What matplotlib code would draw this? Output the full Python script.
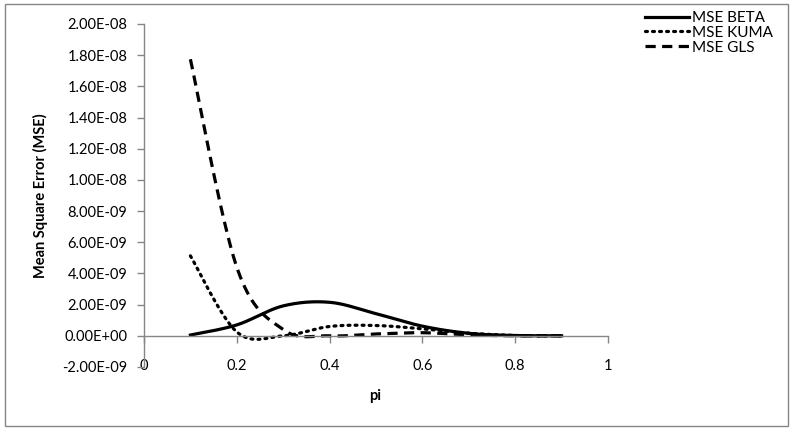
import numpy as np
import matplotlib
matplotlib.use('Agg')
import matplotlib.pyplot as plt
from matplotlib.patches import Rectangle
from matplotlib.ticker import FuncFormatter, MultipleLocator

# values (MSE in units of 1e-9)
pi_vals  = [0.1, 0.2, 0.3, 0.4, 0.5, 0.6, 0.7, 0.8, 0.9]
mse_beta = [0.05, 0.70, 1.92, 2.15, 1.42, 0.62, 0.16, 0.02, 0.00]
mse_kuma = [5.13, 0.25, 0.00, 0.60, 0.66, 0.45, 0.17, 0.02, 0.00]
mse_gls  = [17.74, 4.40, 0.40, 0.00, 0.12, 0.20, 0.06, 0.00, 0.00]
SCALE = 1e-9

FONT = 'Lato'
GRAY = '#868686'
plt.rcParams['font.family'] = [FONT, 'DejaVu Sans']


def smooth(x, y, n=40):
    """Catmull-Rom pass through the points, like Excel's smoothed line."""
    P = np.column_stack([x, y]).astype(float)
    P = np.vstack([P[0], P, P[-1]])
    t = np.linspace(0, 1, n, endpoint=False)[:, None]
    h00 = 2*t**3 - 3*t**2 + 1
    h10 = t**3 - 2*t**2 + t
    h01 = -2*t**3 + 3*t**2
    h11 = t**3 - t**2
    out = []
    for i in range(1, len(P) - 2):
        p0, p1, p2, p3 = P[i-1], P[i], P[i+1], P[i+2]
        m1, m2 = (p2 - p0) / 2, (p3 - p1) / 2
        out.append(h00*p1 + h10*m1 + h01*p2 + h11*m2)
    out.append(P[-2][None, :])
    out = np.vstack(out)
    return out[:, 0], out[:, 1]


W, H = 795, 433
fig = plt.figure(figsize=(W/100, H/100), dpi=100, facecolor='white')
fig.patches.append(Rectangle((5/W, 1-426/H), (788-5)/W, (426-4)/H,
                             transform=fig.transFigure, fill=False,
                             edgecolor=GRAY, lw=1.0))

ax = fig.add_axes([144/W, 1-367/H, (608-144)/W, (367-24)/H])
ax.set_xlim(0, 1)
ax.set_ylim(-2e-9, 2e-8)

series = [
    (mse_beta, 'MSE BETA', dict(ls='-')),
    (mse_kuma, 'MSE KUMA', dict(ls=(0, (0.6, 1.6)), dash_capstyle='round')),
    (mse_gls,  'MSE GLS',  dict(ls=(0, (3.2, 2.0)))),
]
for vals, lab, st in series:
    xs, ys = smooth(pi_vals, np.array(vals) * SCALE)
    ax.plot(xs, ys, color='black', lw=2.3, label=lab, **st)

for s in ['top', 'right']:
    ax.spines[s].set_visible(False)
ax.spines['bottom'].set_position(('data', 0))
for s in ['left', 'bottom']:
    ax.spines[s].set_color(GRAY)
    ax.spines[s].set_linewidth(1.0)

ax.xaxis.set_major_locator(MultipleLocator(0.2))
ax.yaxis.set_major_locator(MultipleLocator(2e-9))
ax.xaxis.set_major_formatter(FuncFormatter(lambda v, _: f'{v:g}'))
ax.yaxis.set_major_formatter(FuncFormatter(lambda v, _: f'{v:.2E}'))
ax.tick_params(axis='both', direction='out', length=5, width=1, color=GRAY,
               labelsize=10.5, labelcolor='black')
ax.tick_params(axis='x', pad=12)
ax.tick_params(axis='y', pad=7)

ax.set_ylabel('Mean Square Error (MSE)', fontsize=10.5, fontweight='bold', labelpad=10)
fig.text(375/W, 1-396/H, 'pi', fontsize=10.5, fontweight='bold', ha='center', va='center')

fig.legend(loc='upper left', bbox_to_anchor=(645/W, 1-11/H), frameon=False,
           fontsize=11, handlelength=2.9, handletextpad=0.15, labelspacing=0.05,
           borderaxespad=0, borderpad=0)

fig.savefig('out.png', dpi=100, facecolor='white')
